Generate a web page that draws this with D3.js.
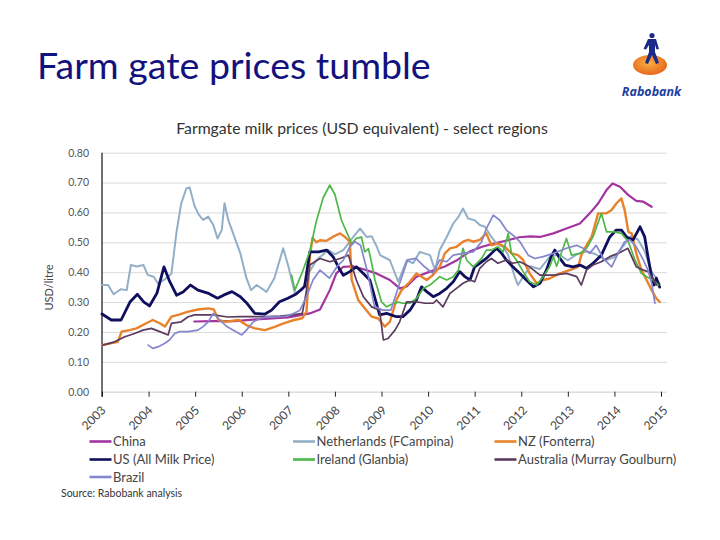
<!DOCTYPE html>
<html><head><meta charset="utf-8">
<script src="https://cdn.jsdelivr.net/npm/d3@7"></script>
<style>
body{margin:0;background:#fff;}
svg{display:block;font-family:Lato,"Open Sans",sans-serif;}
</style></head><body>
<svg id="chart" width="720" height="540"></svg>
<script>
// ---------- data (decimal year, USD/litre) ----------
const pageTitle = "Farm gate prices tumble";
const chartTitle = "Farmgate milk prices (USD equivalent) - select regions";
const yAxisTitle = "USD/litre";
const sourceNote = "Source: Rabobank analysis";
const yearLabels = ["2003","2004","2005","2006","2007","2008","2009","2010","2011","2012","2013","2014","2015"];
const yTicks = [0, 0.1, 0.2, 0.3, 0.4, 0.5, 0.6, 0.7, 0.8];
const seriesNames = ["China","Netherlands (FCampina)","NZ (Fonterra)","US (All Milk Price)","Ireland (Glanbia)","Australia (Murray Goulburn)","Brazil"];

const china = [[2004.98,0.235],[2005.4,0.236],[2005.85,0.236],[2006.3,0.242],[2006.65,0.245],[2007.0,0.249],[2007.26,0.256],[2007.46,0.262],[2007.68,0.275],[2007.89,0.34],[2008.03,0.396],[2008.18,0.418],[2008.39,0.42],[2008.61,0.41],[2008.89,0.396],[2009.18,0.374],[2009.39,0.346],[2009.54,0.352],[2009.75,0.385],[2010.04,0.402],[2010.36,0.419],[2010.63,0.441],[2010.89,0.469],[2011.16,0.485],[2011.43,0.497],[2011.69,0.506],[2011.96,0.517],[2012.2,0.52],[2012.4,0.518],[2012.69,0.53],[2012.97,0.546],[2013.26,0.563],[2013.47,0.597],[2013.65,0.63],[2013.83,0.675],[2013.96,0.697],[2014.12,0.686],[2014.3,0.658],[2014.47,0.639],[2014.62,0.636],[2014.8,0.619]];

const netherlands = [[2003.0,0.357],[2003.13,0.357],[2003.25,0.326],[2003.4,0.343],[2003.53,0.34],[2003.62,0.424],[2003.75,0.419],[2003.89,0.424],[2003.98,0.391],[2004.11,0.385],[2004.2,0.363],[2004.33,0.374],[2004.49,0.395],[2004.6,0.535],[2004.7,0.63],[2004.81,0.68],[2004.88,0.684],[2004.99,0.62],[2005.08,0.592],[2005.17,0.575],[2005.28,0.586],[2005.39,0.558],[2005.48,0.513],[2005.57,0.541],[2005.63,0.631],[2005.71,0.575],[2005.84,0.519],[2005.97,0.463],[2006.1,0.38],[2006.2,0.34],[2006.32,0.357],[2006.53,0.334],[2006.7,0.38],[2006.89,0.48],[2007.0,0.42],[2007.14,0.33],[2007.3,0.34],[2007.45,0.40],[2007.6,0.44],[2007.75,0.46],[2007.86,0.474],[2008.0,0.46],[2008.18,0.474],[2008.35,0.51],[2008.54,0.546],[2008.68,0.518],[2008.79,0.52],[2008.9,0.485],[2008.97,0.457],[2009.18,0.44],[2009.36,0.368],[2009.54,0.44],[2009.68,0.43],[2009.82,0.468],[2010.04,0.457],[2010.15,0.407],[2010.25,0.474],[2010.4,0.518],[2010.54,0.563],[2010.65,0.585],[2010.75,0.613],[2010.86,0.58],[2011.0,0.574],[2011.11,0.558],[2011.22,0.552],[2011.36,0.518],[2011.47,0.496],[2011.61,0.485],[2011.72,0.457],[2011.86,0.385],[2011.93,0.357],[2012.04,0.385],[2012.2,0.42],[2012.4,0.41],[2012.6,0.45],[2012.8,0.46],[2013.0,0.44],[2013.2,0.46],[2013.4,0.47],[2013.6,0.46],[2013.8,0.44],[2014.0,0.45],[2014.2,0.49],[2014.35,0.52],[2014.5,0.51],[2014.65,0.47],[2014.8,0.40],[2014.9,0.38],[2014.97,0.36]];

const nz = [[2003.0,0.156],[2003.34,0.167],[2003.42,0.201],[2003.59,0.206],[2003.74,0.212],[2003.95,0.229],[2004.09,0.24],[2004.24,0.229],[2004.35,0.218],[2004.49,0.251],[2004.65,0.258],[2004.85,0.268],[2005.06,0.275],[2005.28,0.279],[2005.4,0.275],[2005.5,0.24],[2005.66,0.234],[2005.93,0.24],[2006.1,0.223],[2006.28,0.212],[2006.5,0.206],[2006.72,0.218],[2006.9,0.229],[2007.12,0.24],[2007.3,0.246],[2007.39,0.268],[2007.46,0.45],[2007.52,0.515],[2007.6,0.50],[2007.68,0.507],[2007.82,0.505],[2007.96,0.519],[2008.11,0.53],[2008.21,0.519],[2008.32,0.502],[2008.36,0.374],[2008.5,0.307],[2008.64,0.279],[2008.79,0.251],[2008.93,0.245],[2009.07,0.218],[2009.18,0.234],[2009.32,0.307],[2009.43,0.34],[2009.61,0.368],[2009.75,0.396],[2009.97,0.374],[2010.1,0.39],[2010.25,0.418],[2010.36,0.463],[2010.47,0.48],[2010.61,0.485],[2010.75,0.502],[2010.86,0.508],[2010.97,0.502],[2011.11,0.508],[2011.25,0.53],[2011.36,0.49],[2011.5,0.496],[2011.65,0.485],[2011.79,0.463],[2011.93,0.457],[2012.04,0.441],[2012.18,0.396],[2012.33,0.363],[2012.47,0.374],[2012.61,0.379],[2012.83,0.396],[2013.04,0.407],[2013.22,0.418],[2013.29,0.457],[2013.4,0.49],[2013.51,0.518],[2013.65,0.597],[2013.83,0.597],[2013.94,0.608],[2014.04,0.63],[2014.15,0.647],[2014.22,0.608],[2014.3,0.535],[2014.37,0.53],[2014.47,0.463],[2014.58,0.407],[2014.69,0.374],[2014.8,0.34],[2014.9,0.312],[2014.97,0.301]];

const us = [[2003.0,0.26],[2003.2,0.24],[2003.41,0.24],[2003.6,0.30],[2003.76,0.326],[2003.9,0.30],[2004.02,0.287],[2004.18,0.33],[2004.33,0.418],[2004.45,0.37],[2004.6,0.323],[2004.74,0.334],[2004.9,0.357],[2005.06,0.34],[2005.27,0.33],[2005.48,0.313],[2005.62,0.324],[2005.79,0.335],[2005.97,0.318],[2006.1,0.298],[2006.28,0.262],[2006.5,0.26],[2006.64,0.273],[2006.81,0.301],[2006.99,0.313],[2007.17,0.327],[2007.35,0.352],[2007.46,0.468],[2007.65,0.468],[2007.82,0.474],[2007.96,0.452],[2008.11,0.407],[2008.18,0.39],[2008.32,0.402],[2008.46,0.418],[2008.61,0.396],[2008.75,0.374],[2008.89,0.296],[2008.96,0.257],[2009.11,0.262],[2009.32,0.251],[2009.46,0.251],[2009.61,0.273],[2009.75,0.307],[2009.86,0.351],[2009.97,0.335],[2010.11,0.318],[2010.25,0.329],[2010.4,0.346],[2010.54,0.368],[2010.68,0.402],[2010.79,0.385],[2010.9,0.374],[2011.0,0.418],[2011.11,0.43],[2011.25,0.446],[2011.36,0.463],[2011.47,0.48],[2011.58,0.463],[2011.68,0.441],[2011.82,0.418],[2011.97,0.396],[2012.11,0.374],[2012.26,0.351],[2012.4,0.363],[2012.54,0.407],[2012.65,0.455],[2012.72,0.474],[2012.83,0.446],[2012.94,0.424],[2013.11,0.418],[2013.26,0.424],[2013.4,0.413],[2013.54,0.43],[2013.72,0.457],[2013.9,0.518],[2014.04,0.541],[2014.15,0.541],[2014.26,0.518],[2014.4,0.508],[2014.55,0.552],[2014.65,0.518],[2014.72,0.452],[2014.8,0.385],[2014.85,0.357],[2014.9,0.38],[2014.97,0.35]];

const ireland = [[2007.07,0.39],[2007.14,0.34],[2007.3,0.40],[2007.46,0.47],[2007.6,0.57],[2007.75,0.65],[2007.89,0.691],[2008.0,0.66],[2008.14,0.574],[2008.25,0.535],[2008.36,0.496],[2008.46,0.513],[2008.57,0.518],[2008.64,0.468],[2008.72,0.479],[2008.79,0.429],[2008.86,0.374],[2009.0,0.301],[2009.11,0.284],[2009.25,0.295],[2009.36,0.30],[2009.46,0.296],[2009.61,0.296],[2009.75,0.312],[2009.9,0.346],[2010.04,0.357],[2010.25,0.385],[2010.4,0.374],[2010.54,0.385],[2010.65,0.407],[2010.75,0.48],[2010.83,0.44],[2010.97,0.418],[2011.15,0.446],[2011.25,0.474],[2011.36,0.474],[2011.5,0.485],[2011.61,0.468],[2011.72,0.53],[2011.79,0.463],[2011.9,0.44],[2012.04,0.402],[2012.18,0.368],[2012.33,0.357],[2012.47,0.385],[2012.61,0.418],[2012.69,0.452],[2012.76,0.42],[2012.97,0.513],[2013.08,0.457],[2013.26,0.463],[2013.4,0.48],[2013.54,0.518],[2013.72,0.597],[2013.83,0.535],[2014.0,0.535],[2014.15,0.53],[2014.3,0.502],[2014.44,0.441],[2014.58,0.396],[2014.69,0.385],[2014.83,0.374],[2014.94,0.357]];

const australia = [[2003.02,0.156],[2003.27,0.167],[2003.49,0.184],[2003.7,0.195],[2003.88,0.206],[2004.06,0.212],[2004.24,0.201],[2004.42,0.19],[2004.49,0.229],[2004.7,0.234],[2004.85,0.251],[2004.99,0.257],[2005.2,0.257],[2005.39,0.257],[2005.7,0.25],[2005.96,0.251],[2006.25,0.251],[2006.53,0.251],[2006.82,0.253],[2007.11,0.257],[2007.3,0.262],[2007.38,0.33],[2007.46,0.424],[2007.68,0.446],[2007.89,0.435],[2008.11,0.446],[2008.29,0.457],[2008.46,0.374],[2008.61,0.318],[2008.79,0.284],[2008.96,0.273],[2009.04,0.173],[2009.14,0.178],[2009.29,0.206],[2009.39,0.234],[2009.54,0.301],[2009.75,0.301],[2009.93,0.296],[2010.11,0.296],[2010.18,0.307],[2010.32,0.284],[2010.47,0.329],[2010.61,0.346],[2010.75,0.363],[2010.9,0.374],[2011.0,0.368],[2011.11,0.413],[2011.25,0.435],[2011.36,0.446],[2011.5,0.43],[2011.68,0.441],[2011.82,0.43],[2011.97,0.435],[2012.18,0.418],[2012.4,0.39],[2012.69,0.39],[2012.97,0.396],[2013.19,0.385],[2013.29,0.357],[2013.4,0.407],[2013.54,0.424],[2013.72,0.435],[2013.9,0.452],[2014.08,0.463],[2014.22,0.474],[2014.29,0.48],[2014.37,0.452],[2014.47,0.418],[2014.62,0.407],[2014.72,0.402],[2014.83,0.379],[2014.9,0.357]];

const brazil = [[2003.99,0.156],[2004.09,0.145],[2004.2,0.15],[2004.35,0.162],[2004.45,0.173],[2004.56,0.195],[2004.67,0.201],[2004.85,0.201],[2005.06,0.206],[2005.17,0.218],[2005.28,0.234],[2005.39,0.262],[2005.53,0.24],[2005.68,0.218],[2005.82,0.206],[2006.0,0.19],[2006.1,0.206],[2006.25,0.234],[2006.39,0.245],[2006.53,0.251],[2006.75,0.25],[2006.96,0.253],[2007.11,0.262],[2007.25,0.273],[2007.39,0.318],[2007.53,0.374],[2007.68,0.407],[2007.88,0.38],[2008.05,0.42],[2008.18,0.44],[2008.32,0.485],[2008.43,0.502],[2008.55,0.49],[2008.7,0.40],[2008.85,0.285],[2009.03,0.273],[2009.2,0.273],[2009.39,0.363],[2009.56,0.441],[2009.74,0.446],[2009.92,0.419],[2010.1,0.396],[2010.25,0.441],[2010.4,0.435],[2010.54,0.457],[2010.75,0.463],[2010.97,0.468],[2011.15,0.502],[2011.25,0.546],[2011.4,0.591],[2011.54,0.574],[2011.68,0.541],[2011.82,0.524],[2011.97,0.502],[2012.15,0.457],[2012.29,0.446],[2012.47,0.452],[2012.69,0.463],[2012.97,0.48],[2013.19,0.49],[2013.33,0.48],[2013.47,0.463],[2013.61,0.49],[2013.76,0.446],[2013.94,0.418],[2014.08,0.463],[2014.22,0.502],[2014.33,0.508],[2014.47,0.485],[2014.62,0.441],[2014.72,0.407],[2014.8,0.363],[2014.87,0.296]];

const seriesData = [china, netherlands, nz, us, ireland, australia, brazil];
const seriesColors = ["#A2359F","#92AFC7","#E8822B","#0F0F5E","#4DB848","#5B3B5E","#8486CE"];
const seriesWidths = [2.2, 2, 2.4, 2.8, 1.7, 1.7, 1.7];

// ---------- drawing ----------
const svg = d3.select("#chart");

svg.append("text").attr("x", 37).attr("y", 79)
  .attr("font-size", 37.5).attr("fill", "#12127E").text(pageTitle);

// logo
const logo = svg.append("g");
const grad = svg.append("defs").append("radialGradient").attr("id","disk").attr("cx","45%").attr("cy","40%").attr("r","65%");
grad.append("stop").attr("offset","0%").attr("stop-color","#FBB040");
grad.append("stop").attr("offset","100%").attr("stop-color","#E5621B");
logo.append("ellipse").attr("cx",650).attr("cy",65).attr("rx",17).attr("ry",10).attr("fill","url(#disk)");
logo.append("circle").attr("cx",652).attr("cy",35.5).attr("r",2.6).attr("fill","#1C2A8C");
logo.append("path").attr("d","M648,39 L656,39 L659,49 L656.5,49.5 L655,45 L655,52 L659,63 L656,64 L652,55 L648,64 L645,63 L649,52 L649,45 L646,49.5 L643.5,49 Z").attr("fill","#1C2A8C");
logo.append("text").attr("x",651.5).attr("y",96).attr("text-anchor","middle")
  .attr("font-size",12.5).attr("font-weight","bold").attr("font-style","italic")
  .attr("fill","#1E3E9E").attr("font-family","'Open Sans',sans-serif").text("Rabobank");

svg.append("text").attr("x", 362).attr("y", 134).attr("text-anchor","middle")
  .attr("font-size", 15.8).attr("fill", "#333").text(chartTitle);

const x = d3.scaleLinear().domain([2003, 2015]).range([102, 661]);
const y = d3.scaleLinear().domain([0, 0.8]).range([391.7, 152.7]);
const gridRight = 667;

// grid + y axis
const yAxis = svg.append("g").attr("transform","translate(102,0)")
  .call(d3.axisLeft(y).tickValues(yTicks).tickFormat(d3.format(".2f")).tickSize(-(gridRight-102)).tickPadding(13));
yAxis.select(".domain").remove();
yAxis.selectAll(".tick line").attr("stroke","#D9D9D9").attr("stroke-width",1);
yAxis.selectAll(".tick text").attr("font-size",10.5).attr("fill","#555").attr("font-family","Lato,sans-serif");

// x axis ticks
const xAxis = svg.append("g").attr("transform",`translate(0,${y(0)})`)
  .call(d3.axisBottom(x).tickValues(yearLabels.map(Number)).tickSize(5).tickFormat(""));
xAxis.select(".domain").attr("stroke","#D9D9D9");
xAxis.selectAll(".tick line").attr("stroke","#222");

// y axis line
svg.append("line").attr("x1",102).attr("x2",102).attr("y1",y(0.8)).attr("y2",y(0)+5)
  .attr("stroke","#111").attr("stroke-width",1.2);

// x labels (rotated)
const xl = d3.scalePoint().domain(yearLabels).range([106, 668]);
const xLab = svg.append("g").attr("transform","translate(0,411)")
  .call(d3.axisBottom(xl).tickSize(0).tickPadding(0));
xLab.select(".domain").remove();
xLab.selectAll(".tick text").attr("font-size",12).attr("fill","#444")
  .attr("text-anchor","end").attr("dy","0").attr("y",0).attr("transform","rotate(-45)")
  .attr("font-family","Lato,sans-serif");

svg.append("text").attr("transform","translate(53,287.5) rotate(-90)").attr("text-anchor","middle")
  .attr("font-size",11).attr("fill","#444").text(yAxisTitle);

// lines
const line = d3.line().x(d => x(d[0])).y(d => y(d[1]));
svg.append("g").selectAll("path").data(seriesData).join("path")
  .attr("d", line).attr("fill","none")
  .attr("stroke",(d,i)=>seriesColors[i]).attr("stroke-width",(d,i)=>seriesWidths[i])
  .attr("stroke-linejoin","round").attr("stroke-linecap","round");

// legend
const legX = [89.5, 293, 494.5], legY = [441.5, 459.5, 477];
const leg = svg.append("g").selectAll("g").data(seriesNames).join("g")
  .attr("transform",(d,i)=>`translate(${legX[i%3]},${legY[Math.floor(i/3)]})`);
leg.append("line").attr("x1",0).attr("x2",22).attr("stroke",(d,i)=>seriesColors[i]).attr("stroke-width",2.6);
leg.append("text").attr("x",23.5).attr("dy","0.35em").attr("font-size",13).attr("fill","#444").text(d=>d);

svg.append("text").attr("x",61).attr("y",497).attr("font-size",10.5).attr("fill","#333").text(sourceNote);
</script>
</body></html>
